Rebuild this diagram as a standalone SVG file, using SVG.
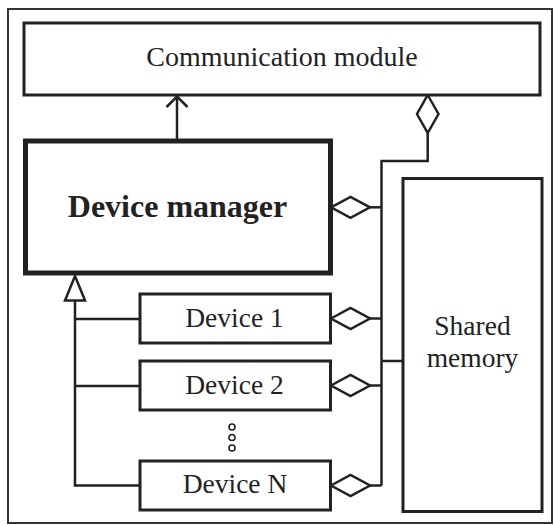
<svg xmlns="http://www.w3.org/2000/svg" width="554" height="525" viewBox="0 0 554 525">
<style>
.box{fill:#fff;stroke:#222;stroke-width:3}
.thick{fill:#fff;stroke:#222;stroke-width:5}
.ln{fill:none;stroke:#222;stroke-width:2.5}
.dia{fill:#fff;stroke:#222;stroke-width:2.5;stroke-linejoin:miter}
.t{font-family:"Liberation Serif","Times New Roman",serif;fill:#222;text-anchor:middle}
</style>
<rect x="8" y="9" width="544" height="514" fill="#fff" stroke="#333" stroke-width="2"/>
<g id="connectors">
<line class="ln" x1="177" y1="141" x2="177" y2="96"/>
<polyline class="ln" points="166.5,107 177,96.5 187.5,107"/>
<polyline class="ln" points="427.7,133 427.7,161 381.5,161 381.5,485.5"/>
<line class="ln" x1="370" y1="207.3" x2="381.5" y2="207.3"/>
<line class="ln" x1="370" y1="318.5" x2="381.5" y2="318.5"/>
<line class="ln" x1="370" y1="385.5" x2="381.5" y2="385.5"/>
<line class="ln" x1="370" y1="485.5" x2="381.5" y2="485.5"/>
<line class="ln" x1="381.5" y1="361" x2="403" y2="361"/>
<polyline class="ln" points="75,300.5 75,485.5 140,485.5"/>
<line class="ln" x1="75" y1="319" x2="140" y2="319"/>
<line class="ln" x1="75" y1="386" x2="140" y2="386"/>
<polygon class="dia" points="75,276 85,300.5 65,300.5"/>
<polygon class="dia" points="427.7,95 438.5,114 427.7,133 417,114"/>
<polygon class="dia" points="331,207.3 350.5,196.8 370,207.3 350.5,217.8"/>
<polygon class="dia" points="331,318.5 350.5,308 370,318.5 350.5,329"/>
<polygon class="dia" points="331,385.5 350.5,375 370,385.5 350.5,396"/>
<polygon class="dia" points="331,485.5 350.5,475 370,485.5 350.5,496"/>
</g>
<g id="comm">
<rect class="box" x="24" y="23" width="516" height="72"/>
<text class="t" x="282" y="66" font-size="28">Communication module</text>
</g>
<g id="manager">
<rect class="thick" x="25.5" y="141" width="305" height="132"/>
<text class="t" x="177.5" y="217" font-size="32" font-weight="bold">Device manager</text>
</g>
<g id="device1">
<rect class="box" x="140" y="294" width="190.5" height="49"/>
<text class="t" x="234.5" y="327" font-size="27.5">Device 1</text>
</g>
<g id="device2">
<rect class="box" x="140" y="361" width="190.5" height="49"/>
<text class="t" x="234.5" y="393.5" font-size="27.5">Device 2</text>
</g>
<g id="dots">
<circle cx="232" cy="427" r="3" fill="#fff" stroke="#222" stroke-width="1.6"/>
<circle cx="232" cy="437.5" r="3" fill="#fff" stroke="#222" stroke-width="1.6"/>
<circle cx="232" cy="448" r="3" fill="#fff" stroke="#222" stroke-width="1.6"/>
</g>
<g id="deviceN">
<rect class="box" x="140" y="461" width="190.5" height="49"/>
<text class="t" x="235" y="493" font-size="27.5">Device N</text>
</g>
<g id="shared">
<rect class="box" x="403" y="178.5" width="139" height="333"/>
<text class="t" x="472.5" y="335" font-size="27.5">Shared</text>
<text class="t" x="472.5" y="367" font-size="27.5">memory</text>
</g>
</svg>
